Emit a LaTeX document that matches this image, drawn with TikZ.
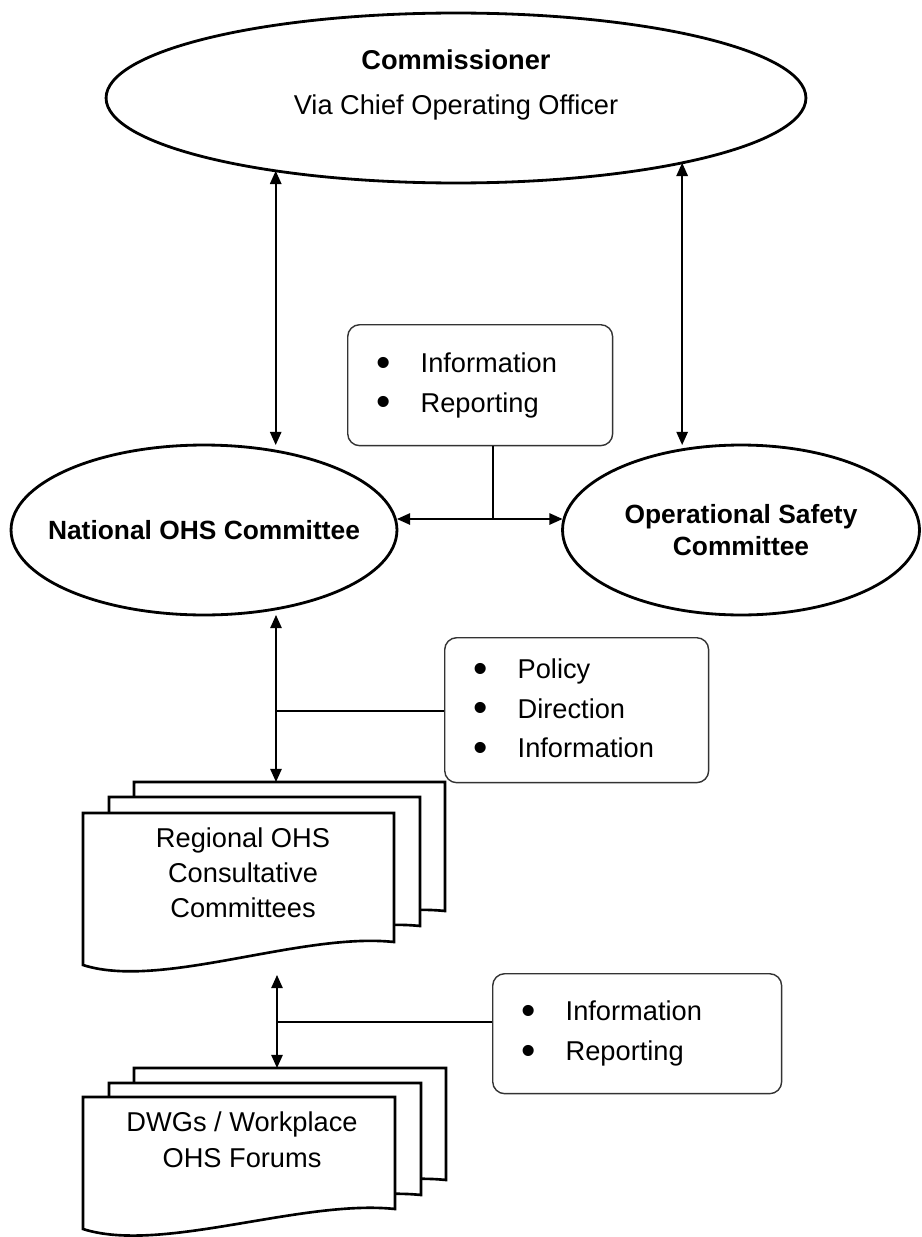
\documentclass[tikz,border=0pt]{standalone}
\usepackage{fontspec}
\setmainfont{Liberation Sans}
\usetikzlibrary{arrows.meta,shapes.geometric}

% one sheet of a stacked document: left, top, width, right height, left drop
\newcommand{\docpage}[5]{%
  \draw[page] (#1,#2) -- ++(#3,0) -- ++(0,#4)
    .. controls +({-0.3*#3},-10) and +({0.25*#3},25) .. ++({-#3},#5) -- cycle;}
\newcommand{\bul}{\makebox[0.88cm][l]{\raisebox{-0.14em}{\scalebox{1.5}{\textbullet}}}}

\begin{document}
\begin{tikzpicture}[x=0.02cm, y=-0.02cm, every node/.style={font=\fontsize{15.5}{19}\selectfont}, oval/.style={ellipse,draw,line width=1.6pt,inner sep=0pt,outer sep=0pt}, note/.style={draw=black!80,line width=0.8pt,rounded corners=0.24cm,align=left,anchor=north west,inner xsep=0.58cm,font=\fontsize{15.5}{22.5}\selectfont}, page/.style={draw,line width=1.5pt,fill=white}, dbl/.style={{Triangle[length=7.5pt,width=6.5pt]}-{Triangle[length=7.5pt,width=6.5pt]},line width=0.9pt}, link/.style={line width=0.9pt}]
\useasboundingbox (0,0) rectangle (922,1237);
\node[oval,minimum width=14cm,minimum height=3.4cm] (commissioner) at (456,98) {};
\node[align=center,font=\fontsize{15.5}{25.5}\selectfont] (commtext) at (456,85) {\textbf{Commissioner}\\Via Chief Operating Officer};
\node[oval,minimum width=7.72cm,minimum height=3.4cm,font=\bfseries\fontsize{15}{18}\selectfont] (national) at (204,530) {\makebox[0pt]{National OHS Committee}};
\node[oval,minimum width=7.14cm,minimum height=3.4cm,align=center,font=\bfseries\fontsize{15}{18.1}\selectfont] (operational) at (741,530) {Operational Safety\\Committee};
\node[note,text width=4.14cm,minimum height=2.42cm] (infoA) at (347,324) {\bul Information\\\bul Reporting};
\node[note,text width=4.12cm,minimum height=2.9cm] (policy) at (444,637) {\bul Policy\\\bul Direction\\\bul Information};
\node[note,text width=4.62cm,minimum height=2.4cm] (infoB) at (492,973) {\bul Information\\\bul Reporting};
% stacked documents
\foreach \dx/\dy in {51/31,26/16,0/0} \docpage{83+\dx}{813-\dy}{311}{129}{23};
\node[align=center,font=\fontsize{15.5}{19.8}\selectfont] (regional) at (243,873) {Regional OHS\\Consultative\\Committees};
\foreach \dx/\dy in {51/29,26/14,0/0} \docpage{83+\dx}{1097-\dy}{312}{112}{20};
\node[align=center,font=\fontsize{15.5}{20.4}\selectfont] (dwgs) at (242,1140) {DWGs / Workplace\\OHS Forums};
\coordinate (jA) at (493,519);
\coordinate (jB) at (276,711);
\coordinate (regtop) at (276,782);
\coordinate (regbot) at (277,975);
\coordinate (jC) at (277,1022);
\coordinate (dwgtop) at (277,1068);
\draw[dbl] (commissioner.202) -- (commissioner.202 |- national.north);
\draw[dbl] (commissioner.344) -- (commissioner.344 |- operational.north);
\draw[dbl] ([shift={(0,-11)}]national.east) -- ([shift={(0,-11)}]operational.west);
\draw[link] (jA |- infoA.south) -- (jA);
\draw[dbl] (national.south -| regtop) -- (regtop);
\draw[link] (jB) -- (jB -| policy.west);
\draw[dbl] (regbot) -- (dwgtop);
\draw[link] (jC) -- (jC -| infoB.west);
\end{tikzpicture}
\end{document}
